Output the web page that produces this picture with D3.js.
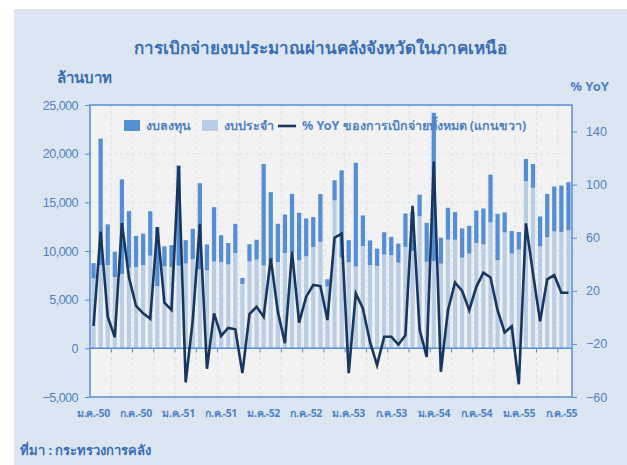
<!DOCTYPE html>
<html>
<head>
<meta charset="utf-8">
<script src="https://cdn.jsdelivr.net/npm/d3@7"></script>
<style>
  body { margin: 0; background: #fff; }
  svg { display: block; font-family: "Noto Sans", "DejaVu Sans", sans-serif; }
</style>
</head>
<body>
<div id="chart"></div>
<script>
// monthly, ม.ค.-50 .. ส.ค.-55 (million baht)
var months = [];
var yrs = ["50", "51", "52", "53", "54", "55"];
var mNames = ["ม.ค.", "ก.พ.", "มี.ค.", "เม.ย.", "พ.ค.", "มิ.ย.", "ก.ค.", "ส.ค.", "ก.ย.", "ต.ค.", "พ.ย.", "ธ.ค."];
yrs.forEach(function(y) { mNames.forEach(function(m) { months.push(m + "-" + y); }); });
months = months.slice(0, 68);

var current = [ // งบประจำ
  7180, 8560, 8560, 7330, 7640, 8290, 8360, 8560, 9520, 6400, 8420, 8360,
  8510, 8720, 9150, 8120, 8020, 8920, 8850, 8620, 9800, 6620, 8940, 9110,
  8500, 8870, 8870, 9800, 9900, 9040, 9450, 10410, 10940, 6360, 15210, 9350,
  8850, 8410, 10510, 8530, 8460, 9640, 9570, 8790, 10430, 10000, 13570, 8890,
  8980, 8700, 11160, 11160, 9320, 9730, 10820, 10680, 12940, 9040, 11910, 9730,
  10140, 17170, 16490, 10480, 11430, 12010, 11950, 12120
];
var capital = [ // งบลงทุน
  1570, 12990, 4180, 2600, 9720, 5810, 3190, 3220, 4560, 6070, 2060, 2240,
  10280, 2390, 3120, 8840, 2650, 5580, 2770, 2200, 2990, 620, 1760, 2050,
  10440, 7170, 3930, 3950, 5970, 4880, 3890, 3070, 4910, 730, 2050, 8940,
  2260, 10650, 3140, 2560, 1780, 2290, 1880, 1980, 3420, 4000, 2220, 4000,
  15220, 2670, 3280, 2830, 3000, 2860, 3340, 3690, 4910, 4780, 2050, 2320,
  1810, 2280, 2450, 3070, 4440, 4610, 4770, 4950
];
var yoy = [ // % YoY ของการเบิกจ่ายทั้งหมด
  -6.5, 64.6, 0.5, -15, 71, 30, 8.6, 3, -1, 68, 11, 5.5,
  114, -49, -2, 70.5, -38.7, 3, -14, -8, -9, -42, 2.5, 8,
  0.5, 44.5, 4.3, -19.5, 49.5, -4, 15.6, 24.4, 23.6, -2, 60, 63,
  -42, 18, 6.8, -18.5, -36, -14.6, -14.6, -20.5, -13.5, 84, -9.2, -29.8,
  117.4, -41, 5.4, 26.3, 20, 5.4, 23, 33.6, 30, 5.4, -11.4, -6.7,
  -50.4, 70.8, 33, -2.9, 28.6, 31.8, 18.5, 18.5
];
var leftTicks = [-5000, 0, 5000, 10000, 15000, 20000, 25000];
var rightTicks = [-60, -20, 20, 60, 100, 140];

var W = 627, H = 465;
var blue = "#558ed5", textBlue = "#4f81c7", darkText = "#3a6db5";
var m = { left: 90, right: 55, top: 105, bottom: 68 };
var pw = W - m.left - m.right, ph = H - m.top - m.bottom;

var svg = d3.select("#chart").append("svg").attr("width", W).attr("height", H);
svg.append("rect").attr("x", 14).attr("y", 9).attr("width", W - 14).attr("height", H - 9).attr("fill", "#dce6f2");

var x = d3.scaleBand().domain(months).range([m.left, m.left + pw]).paddingInner(0.4).paddingOuter(0.2);
var y = d3.scaleLinear().domain([-5000, 25000]).range([m.top + ph, m.top]);
var y2 = d3.scaleLinear().domain([-60, 160]).range([m.top + ph, m.top]);
var step = x.step();

var g = svg.append("g");
g.append("rect").attr("x", m.left).attr("y", m.top).attr("width", pw).attr("height", ph).attr("fill", "#f2f2f2");

// grid
g.selectAll(".hg").data(leftTicks.filter(function(d) { return d !== 0 && d !== 25000 && d !== -5000; }))
  .enter().append("line")
  .attr("x1", m.left).attr("x2", m.left + pw)
  .attr("y1", function(d) { return y(d); }).attr("y2", function(d) { return y(d); })
  .attr("stroke", "#dbe3ee").attr("stroke-dasharray", "3,3");
g.selectAll(".vg").data(d3.range(3, months.length, 3))
  .enter().append("line")
  .attr("x1", function(i) { return m.left + x.step() * i; })
  .attr("x2", function(i) { return m.left + x.step() * i; })
  .attr("y1", m.top).attr("y2", m.top + ph)
  .attr("stroke", "#dbe3ee").attr("stroke-dasharray", "3,3");

// bars
g.selectAll(".cur").data(current).enter().append("rect")
  .attr("x", function(d, i) { return x(months[i]); })
  .attr("width", x.bandwidth())
  .attr("y", function(d) { return y(d); })
  .attr("height", function(d) { return y(0) - y(d); })
  .attr("fill", "#b9cde5");
g.selectAll(".cap").data(capital).enter().append("rect")
  .attr("x", function(d, i) { return x(months[i]); })
  .attr("width", x.bandwidth())
  .attr("y", function(d, i) { return Math.max(y(current[i] + d), m.top); })
  .attr("height", function(d, i) { return y(current[i]) - Math.max(y(current[i] + d), m.top); })
  .attr("fill", "#558ed5");

// zero axis with ticks every 3 months
g.append("line").attr("x1", m.left).attr("x2", m.left + pw).attr("y1", y(0)).attr("y2", y(0))
  .attr("stroke", blue).attr("stroke-width", 1.5);
g.selectAll(".xt").data(d3.range(3, months.length, 3)).enter().append("line")
  .attr("x1", function(i) { return m.left + step * i; })
  .attr("x2", function(i) { return m.left + step * i; })
  .attr("y1", y(0)).attr("y2", y(0) + 4)
  .attr("stroke", blue);

// line
var line = d3.line()
  .x(function(d, i) { return x(months[i]) + x.bandwidth() / 2; })
  .y(function(d) { return y2(d); });
g.append("path").datum(yoy).attr("d", line)
  .attr("fill", "none").attr("stroke", "#17375e").attr("stroke-width", 2.6).attr("stroke-linejoin", "miter");

// frame
g.append("rect").attr("x", m.left).attr("y", m.top).attr("width", pw).attr("height", ph)
  .attr("fill", "none").attr("stroke", blue).attr("stroke-width", 1.5);

// left axis
var la = svg.append("g").attr("transform", "translate(" + m.left + ",0)")
  .call(d3.axisLeft(y).tickValues(leftTicks).tickSize(5).tickSizeOuter(0).tickFormat(d3.format(",")));
la.select(".domain").remove();
la.selectAll("line").attr("stroke", blue);
la.selectAll("text").attr("fill", textBlue).attr("font-size", 12.5).attr("dx", -4)
  .style("letter-spacing", "-0.5px");

// right axis
var ra = svg.append("g").attr("transform", "translate(" + (m.left + pw) + ",0)")
  .call(d3.axisRight(y2).tickValues(rightTicks).tickSize(5).tickSizeOuter(0));
ra.select(".domain").remove();
ra.selectAll("line").attr("stroke", blue);
ra.selectAll("text").attr("fill", textBlue).attr("font-size", 12.5).attr("dx", 6);

// x labels
svg.selectAll(".xl").data(months.filter(function(d, i) { return i % 6 === 0; }))
  .enter().append("text")
  .attr("x", function(d) { return x(d) + x.bandwidth() / 2; })
  .attr("y", 417).attr("text-anchor", "middle")
  .attr("fill", textBlue).attr("font-size", 10.5).attr("font-weight", "bold")
  .style("letter-spacing", "-0.4px")
  .text(function(d) { return d; });

// titles
svg.append("text").attr("x", 320).attr("y", 54).attr("text-anchor", "middle")
  .attr("fill", darkText).attr("font-size", 17).attr("font-weight", "bold")
  .text("การเบิกจ่ายงบประมาณผ่านคลังจังหวัดในภาคเหนือ");
svg.append("text").attr("x", 57).attr("y", 83).attr("fill", darkText)
  .attr("font-size", 15).attr("font-weight", "bold").text("ล้านบาท");
svg.append("text").attr("x", 609).attr("y", 91).attr("text-anchor", "end").attr("fill", textBlue)
  .attr("font-size", 13).attr("font-weight", "bold").text("% YoY");
svg.append("text").attr("x", 20).attr("y", 455).attr("fill", darkText)
  .attr("font-size", 13).attr("font-weight", "bold").text("ที่มา : กระทรวงการคลัง");

// legend
var lg = svg.append("g").attr("font-size", 12.5).attr("font-weight", "bold").attr("fill", textBlue);
lg.append("rect").attr("x", 124).attr("y", 120).attr("width", 16).attr("height", 11).attr("fill", "#558ed5");
lg.append("text").attr("x", 146).attr("y", 130).text("งบลงทุน");
lg.append("rect").attr("x", 202).attr("y", 120).attr("width", 16).attr("height", 11).attr("fill", "#b9cde5");
lg.append("text").attr("x", 224).attr("y", 130).text("งบประจำ");
lg.append("line").attr("x1", 278).attr("x2", 296).attr("y1", 126).attr("y2", 126)
  .attr("stroke", "#17375e").attr("stroke-width", 2.6);
lg.append("text").attr("x", 302).attr("y", 130).text("% YoY ของการเบิกจ่ายทั้งหมด (แกนขวา)");
</script>
</body>
</html>
